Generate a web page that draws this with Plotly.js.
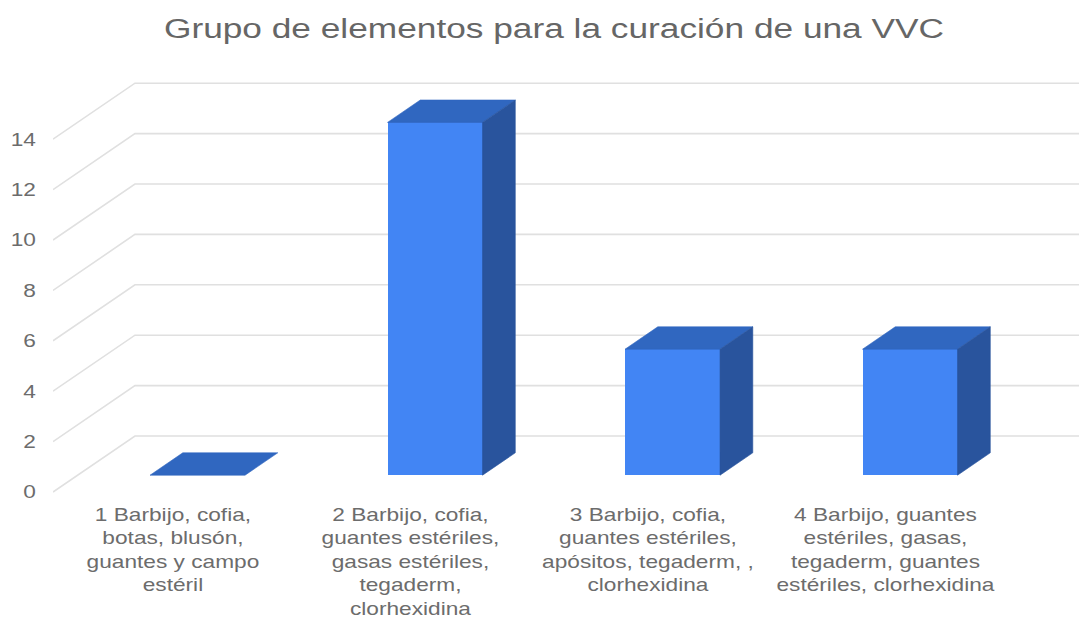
<!DOCTYPE html>
<html>
<head>
<meta charset="utf-8">
<script src="https://cdn.plot.ly/plotly-3.0.1.min.js"></script>
<style>
  html, body { margin: 0; padding: 0; background: #ffffff; }
  #chart { width: 1079px; height: 617px; }
</style>
</head>
<body>
<div id="chart"></div>
<script>
// ---- data ----
var categories = [0, 1, 2, 3];
var values = [0, 14, 5, 5];
var tickLabels = [
  "1 Barbijo, cofia,<br>botas, blusón,<br>guantes y campo<br>estéril",
  "2 Barbijo, cofia,<br>guantes estériles,<br>gasas estériles,<br>tegaderm,<br>clorhexidina",
  "3 Barbijo, cofia,<br>guantes estériles,<br>apósitos, tegaderm, ,<br>clorhexidina",
  "4 Barbijo, guantes<br>estériles, gasas,<br>tegaderm, guantes<br>estériles, clorhexidina"
];
var yTicks = [0, 2, 4, 6, 8, 10, 12, 14];
var titleText = "Grupo de elementos para la curación de una VVC";

// ---- 3D look parameters ----
var depthX = 0.345;   // x shift of full depth (data units)
var depthY = 2.222;   // y shift of full depth (data units)
var barFront = 0.3, barBack = 0.7; // bar placement in depth
var barWidth = 0.4;
var xMin = -0.505, xMax = 3.815;
var yMin = -0.317, yMax = 17.143;
var FRONT = '#4285F4', TOP = '#3067C0', SIDE = '#29549D';
var GRID = '#e0e0e0';
var FONT = 'Liberation Sans, Arial, sans-serif';

var data = [];
var bx0 = barFront * depthX, by0 = barFront * depthY;
var dd = (barBack - barFront) * depthX, dh = (barBack - barFront) * depthY;

// front faces
data.push({
  type: 'bar',
  x: categories.map(function (c) { return c + bx0; }),
  y: values,
  base: values.map(function () { return by0; }),
  width: barWidth,
  marker: { color: FRONT, line: { width: 0 } },
  hoverinfo: 'skip',
  showlegend: false
});

categories.forEach(function (c, i) {
  var xl = c + bx0 - barWidth / 2, xr = c + bx0 + barWidth / 2;
  var yb = by0, yt = by0 + values[i];
  // top face
  data.push({
    type: 'scatter', mode: 'lines', fill: 'toself', fillcolor: TOP,
    line: { width: 0.6, color: TOP },
    x: [xl, xr, xr + dd, xl + dd, xl],
    y: [yt, yt, yt + dh, yt + dh, yt],
    hoverinfo: 'skip', showlegend: false
  });
  // side face
  if (values[i] > 0) {
    data.push({
      type: 'scatter', mode: 'lines', fill: 'toself', fillcolor: SIDE,
      line: { width: 0.6, color: SIDE },
      x: [xr, xr + dd, xr + dd, xr, xr],
      y: [yb, yb + dh, yt + dh, yt, yb],
      hoverinfo: 'skip', showlegend: false
    });
  }
});

// gridlines (side wall diagonal + back wall horizontal)
var shapes = yTicks.map(function (v) {
  var p = 'M' + xMin + ',' + v + ' L' + (xMin + depthX) + ',' + (v + depthY) +
          ' L' + xMax + ',' + (v + depthY);
  return {
    type: 'path', xref: 'x', yref: 'y', path: p, layer: 'below',
    line: { color: GRID, width: 1.6 }
  };
});

var layout = {
  width: 1079, height: 617,
  margin: { l: 53, r: 0, t: 60, b: 117, pad: 0 },
  paper_bgcolor: '#ffffff', plot_bgcolor: '#ffffff',
  font: { family: FONT, color: '#6c6c6c' },
  title: {
    text: titleText,
    font: { family: FONT, size: 28, color: '#666666' },
    x: 554 / 1079, xanchor: 'center', xref: 'container',
    y: 1 - 28 / 617, yanchor: 'middle', yref: 'container'
  },
  xaxis: {
    range: [xMin, xMax], tickmode: 'array', tickvals: categories, ticktext: tickLabels,
    showgrid: false, zeroline: false, showline: false, ticks: '',
    tickfont: { family: FONT, size: 18, color: '#6c6c6c' },
    ticklabelstandoff: 2, fixedrange: true
  },
  yaxis: {
    range: [yMin, yMax], tickmode: 'array', tickvals: yTicks,
    ticktext: yTicks.map(String),
    showgrid: false, zeroline: false, showline: false, ticks: '',
    tickfont: { family: FONT, size: 18, color: '#6c6c6c' },
    ticklabelstandoff: 16, fixedrange: true
  },
  shapes: shapes,
  showlegend: false,
  bargap: 0
};

var gd = document.getElementById('chart');
Plotly.newPlot(gd, data, layout, { displayModeBar: false, staticPlot: true, responsive: false })
  .then(function () {
    // the reference is horizontally stretched; stretch text to match
    var s = 1.26;
    var els = gd.querySelectorAll('text.gtitle, g.xtick text, g.ytick text');
    els.forEach(function (el) {
      var x = parseFloat(el.getAttribute('x')) || 0;
      var tr = el.getAttribute('transform') || '';
      el.setAttribute('transform', tr + ' translate(' + x + ',0) scale(' + s + ',1) translate(' + (-x) + ',0)');
    });
  });
</script>
</body>
</html>
